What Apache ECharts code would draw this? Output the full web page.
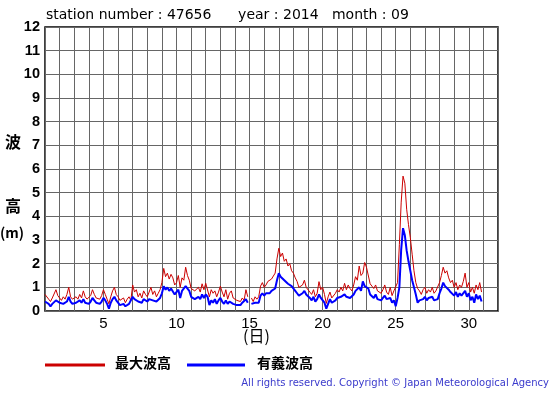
<!DOCTYPE html>
<html><head><meta charset="utf-8">
<script src="https://cdn.jsdelivr.net/npm/echarts@6/dist/echarts.min.js"></script>
<style>html,body{margin:0;padding:0;background:#fff}#c{width:555px;height:395px}</style>
</head><body><div id="c"></div>
<script>
// 3-hourly samples starting at Sept 1 00:00 (8 per day)
const startDay = 1;
const stepDay = 1 / 8;
const maxWave = [
  0.7,0.75,0.5,0.4,0.55,0.6,0.9,0.65,
  0.55,0.45,0.6,0.5,0.7,1.0,0.6,0.5,
  0.45,0.6,0.5,0.7,0.55,0.85,0.6,0.5,
  0.5,0.65,0.9,0.7,0.55,0.6,0.5,0.65,
  0.9,0.7,0.5,0.3,0.6,0.85,1.0,0.7,
  0.6,0.45,0.4,0.55,0.35,0.5,0.6,0.45,
  1.1,0.8,0.9,0.6,0.75,0.55,0.85,0.7,
  0.6,0.8,1.0,0.7,0.85,0.6,0.75,0.9,
  1.2,1.8,1.45,1.6,1.35,1.55,1.4,1.1,
  1.2,1.5,1.0,1.4,1.3,1.85,1.5,1.3,
  0.95,1.0,0.85,0.9,1.0,0.8,1.15,0.9,
  1.17,1.2,0.6,0.9,0.75,0.85,0.6,0.8,
  1.05,0.8,0.6,0.9,0.5,0.75,0.85,0.55,
  0.6,0.45,0.5,0.4,0.55,0.45,0.9,0.6,
  null,0.55,0.4,0.6,0.5,0.6,1.05,1.2,
  1.0,1.1,1.25,1.2,1.35,1.3,1.6,2.2,
  2.65,2.3,2.45,2.1,2.2,1.9,2.0,1.7,
  1.6,1.4,1.25,1.0,0.95,1.1,1.3,1.0,
  0.95,0.8,0.7,0.9,0.6,0.75,1.24,0.9,
  1.0,0.7,0.32,0.6,0.8,0.55,0.5,0.75,
  0.9,0.8,1.0,0.85,1.17,0.9,1.1,0.95,
  0.85,1.1,1.45,1.3,1.9,1.5,1.6,2.05,
  1.85,1.9,1.15,1.05,0.95,1.1,0.85,0.8,
  0.75,0.9,1.1,0.8,0.7,1.0,0.65,0.85,
  0.9,1.2,2.8,4.6,5.7,5.4,4.3,3.65,
  3.1,2.4,1.7,1.2,0.95,0.85,0.7,0.9,
  1.0,0.75,0.9,0.8,1.0,0.75,0.85,0.8,
  1.2,1.5,1.85,1.6,1.7,1.4,1.2,1.3,
  1.0,1.2,0.9,1.1,1.0,1.25,1.6,1.0,
  1.2,0.8,1.0,0.75,1.1,0.9,1.2,0.8
];
const sigWave = [
  0.4,0.45,0.3,0.2,0.3,0.35,0.45,0.4,
  0.35,0.3,0.3,0.35,0.4,0.6,0.4,0.3,
  0.3,0.35,0.3,0.45,0.35,0.5,0.35,0.3,
  0.3,0.4,0.55,0.45,0.35,0.35,0.3,0.4,
  0.55,0.45,0.3,0.1,0.35,0.5,0.6,0.45,
  0.35,0.25,0.2,0.3,0.2,0.25,0.3,0.3,
  0.6,0.5,0.55,0.4,0.45,0.35,0.5,0.45,
  0.4,0.5,0.55,0.45,0.5,0.4,0.45,0.55,
  0.75,1.05,0.9,1.0,0.85,0.95,0.9,0.7,
  0.65,0.9,0.55,0.85,0.8,1.05,0.95,0.85,
  0.6,0.65,0.5,0.55,0.6,0.5,0.7,0.55,
  0.7,0.6,0.25,0.45,0.35,0.5,0.3,0.45,
  0.55,0.4,0.3,0.45,0.3,0.4,0.45,0.3,
  0.35,0.25,0.3,0.25,0.35,0.3,0.5,0.35,
  null,0.3,0.25,0.35,0.3,0.35,0.65,0.75,
  0.65,0.75,0.8,0.75,0.85,0.8,0.95,1.3,
  1.6,1.45,1.5,1.3,1.25,1.15,1.2,1.05,
  1.0,0.85,0.75,0.65,0.7,0.75,0.85,0.7,
  0.65,0.55,0.45,0.6,0.4,0.5,0.7,0.55,
  0.55,0.35,0.1,0.3,0.5,0.35,0.3,0.45,
  0.55,0.5,0.6,0.55,0.7,0.6,0.65,0.55,
  0.55,0.7,0.85,0.8,1.0,0.85,1.25,1.05,
  1.0,0.95,0.7,0.65,0.55,0.7,0.5,0.5,
  0.45,0.55,0.65,0.5,0.45,0.55,0.35,0.45,
  0.2,0.55,1.0,2.6,3.5,3.2,2.55,2.1,
  1.7,1.3,1.0,0.7,0.35,0.45,0.4,0.5,
  0.6,0.45,0.55,0.5,0.6,0.45,0.5,0.5,
  0.75,0.95,1.2,1.05,1.1,0.9,0.8,0.85,
  0.65,0.8,0.6,0.75,0.65,0.7,0.85,0.6,
  0.75,0.45,0.6,0.35,0.7,0.5,0.65,0.4
];
const titleText = 'station number : 47656      year : 2014   month : 09';
const xLabelDays = [5, 10, 15, 20, 25, 30];
const legendNames = ['最大波高', '有義波高'];

const toPts = arr => arr.map((v, i) => [startDay + i * stepDay, v]);
const jp = '"Noto Sans CJK JP", sans-serif';
const lat = '"Liberation Sans", Arial, sans-serif';
const dv = '"DejaVu Sans", sans-serif';

const chart = echarts.init(document.getElementById('c'), null, {renderer: 'canvas'});
chart.setOption({
  animation: false,
  backgroundColor: '#fff',
  grid: {left: 45, right: 57, top: 27, bottom: 84, show: true, borderColor: '#000', borderWidth: 1.5, backgroundColor: 'transparent'},
  xAxis: {
    type: 'value', min: 1, max: 32, interval: 1,
    axisLine: {show: false}, axisTick: {show: false},
    splitLine: {show: true, lineStyle: {color: '#666', width: 1}},
    axisLabel: {
      margin: 5, color: '#000', fontSize: 15, fontFamily: lat,
      formatter: v => xLabelDays.includes(v) ? String(v) : ''
    }
  },
  yAxis: {
    type: 'value', min: 0, max: 12, interval: 1,
    axisLine: {show: false}, axisTick: {show: false},
    splitLine: {show: true, lineStyle: {color: '#666', width: 1}},
    axisLabel: {margin: 5, color: '#000', fontSize: 14.5, fontWeight: 'bold', fontFamily: lat}
  },
  series: [
    {name: legendNames[0], type: 'line', data: toPts(maxWave), showSymbol: false, connectNulls: false,
     lineStyle: {color: '#cc0000', width: 1}, itemStyle: {color: '#cc0000'}, z: 2},
    {name: legendNames[1], type: 'line', data: toPts(sigWave), showSymbol: false, connectNulls: false,
     lineStyle: {color: '#0000ff', width: 2}, itemStyle: {color: '#0000ff'}, z: 3}
  ],
  graphic: [
    {type: 'text', left: 46, top: 8, style: {text: titleText, font: '14px ' + dv, fill: '#000'}},
    {type: 'text', left: 5, top: 134, style: {text: '波', font: 'bold 16px ' + jp, fill: '#000'}},
    {type: 'text', left: 5, top: 198, style: {text: '高', font: 'bold 16px ' + jp, fill: '#000'}},
    {type: 'text', left: 0, top: 226, style: {text: '(m)', font: 'bold 14px ' + jp, fill: '#000'}},
    {type: 'text', left: 243, top: 328, style: {text: '(日)', font: '16px ' + jp, fill: '#000'}},
    {type: 'line', shape: {x1: 45, y1: 365, x2: 105, y2: 365}, style: {stroke: '#cc0000', lineWidth: 3}},
    {type: 'text', left: 115, top: 356, style: {text: legendNames[0], font: 'bold 14px ' + jp, fill: '#000'}},
    {type: 'line', shape: {x1: 187, y1: 365, x2: 245, y2: 365}, style: {stroke: '#0000ff', lineWidth: 3}},
    {type: 'text', left: 257, top: 356, style: {text: legendNames[1], font: 'bold 14px ' + jp, fill: '#000'}},
    {type: 'text', right: 6, top: 378, style: {text: 'All rights reserved. Copyright © Japan Meteorological Agency', font: '10px ' + dv, fill: '#3a3acc'}}
  ]
});
</script></body></html>
